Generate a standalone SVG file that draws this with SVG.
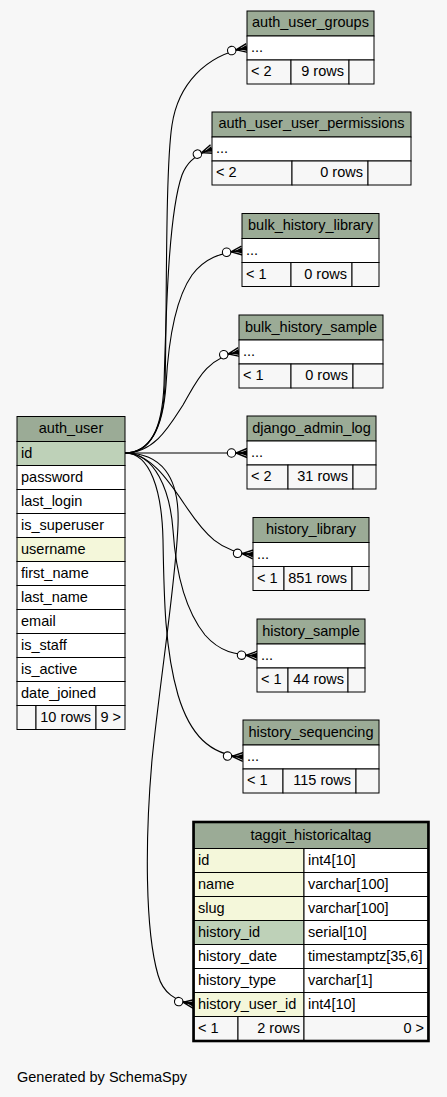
<svg xmlns="http://www.w3.org/2000/svg" width="447" height="1097" viewBox="0 0 447 1097">
<style>
.hd{fill:#9bab96;stroke:#000;stroke-width:1}
.pk{fill:#bed1b8;stroke:#000;stroke-width:1}
.ix{fill:#f4f7da;stroke:#000;stroke-width:1}
.rw{fill:#fff;stroke:#000;stroke-width:1}
.ft{fill:#f7f7f7;stroke:#000;stroke-width:1}
text{font-family:"Liberation Sans",Arial,Helvetica,sans-serif;font-size:14.5px;fill:#000}
.c{text-anchor:middle}
.e{text-anchor:end}
.edge{fill:none;stroke:#000;stroke-width:1.1;marker-end:url(#cf)}
</style>
<defs>
<marker id="cf" markerUnits="userSpaceOnUse" orient="auto" viewBox="-25 -10 30 20" refX="0" refY="0" markerWidth="30" markerHeight="20" overflow="visible">
<path d="M0,-4.5 L-11,0 L0,4.5 M-11,0 H0" fill="none" stroke="#000" stroke-width="1.4"/>
<path d="M0,-3 L-8,0 L0,3 Z" fill="#000"/>
<circle cx="-15.5" cy="0" r="4.2" fill="#fff" stroke="#000" stroke-width="1.1"/>
</marker>
</defs>
<rect x="0" y="0" width="447" height="1097" fill="#f7f7f7"/>

<g id="connectors">
<path class="edge" d="M125,453 C150,453 163,428 165,385 C167,320 165,170 172,125 C178,85 205,55 247,48"/>
<path class="edge" d="M125,453 C150,453 162,430 164,385 C166,320 168,215 182,175 C186,165 192,156 212,149"/>
<path class="edge" d="M125,453 C150,453 163,428 166,385 C169,330 178,295 192,275 C205,258 220,253 242,250.5"/>
<path class="edge" d="M125,453 C155,453 170,425 183,405 C196,383 205,358 239,352"/>
<path class="edge" d="M125,453 H247"/>
<path class="edge" d="M125,453 C150,453 168,480 185,505 C205,535 220,552 253,554.5"/>
<path class="edge" d="M125,453 C155,453 170,490 173,530 C176,575 185,610 205,635 C220,652 235,655 257,655.7"/>
<path class="edge" d="M125,453 C150,453 162,490 163,540 C164,600 165,650 178,695 C190,735 210,755 243,757"/>
<path class="edge" d="M125,453 C160,453 180,475 178,525 C176,580 160,680 152,760 C145,840 145,930 158,975 C163,993 175,1001 194,1004"/>
</g>

<g id="auth_user_groups">
<rect class="hd" x="247" y="11" width="127" height="25"/>
<rect class="rw" x="247" y="36" width="127" height="24"/>
<rect class="ft" x="247" y="60" width="44" height="24"/>
<rect class="ft" x="291" y="60" width="58" height="24"/>
<rect class="ft" x="349" y="60" width="25" height="24"/>
<text class="c" x="310.5" y="27">auth_user_groups</text>
<text x="251" y="52">...</text>
<text x="251" y="76">&lt; 2</text>
<text class="e" x="344" y="76">9 rows</text>
</g>

<g id="auth_user_user_permissions">
<rect class="hd" x="212" y="112" width="199" height="25"/>
<rect class="rw" x="212" y="137" width="199" height="24"/>
<rect class="ft" x="212" y="161" width="80" height="24"/>
<rect class="ft" x="292" y="161" width="76" height="24"/>
<rect class="ft" x="368" y="161" width="43" height="24"/>
<text class="c" x="311.5" y="128">auth_user_user_permissions</text>
<text x="216" y="153">...</text>
<text x="216" y="177">&lt; 2</text>
<text class="e" x="363" y="177">0 rows</text>
</g>

<g id="bulk_history_library">
<rect class="hd" x="242" y="213.5" width="137" height="25"/>
<rect class="rw" x="242" y="238.5" width="137" height="24"/>
<rect class="ft" x="242" y="262.5" width="49" height="24"/>
<rect class="ft" x="291" y="262.5" width="61" height="24"/>
<rect class="ft" x="352" y="262.5" width="27" height="24"/>
<text class="c" x="310.5" y="230">bulk_history_library</text>
<text x="246" y="254.5">...</text>
<text x="246" y="278.5">&lt; 1</text>
<text class="e" x="347" y="278.5">0 rows</text>
</g>

<g id="bulk_history_sample">
<rect class="hd" x="239" y="315" width="144" height="25"/>
<rect class="rw" x="239" y="340" width="144" height="24"/>
<rect class="ft" x="239" y="364" width="52" height="24"/>
<rect class="ft" x="291" y="364" width="62" height="24"/>
<rect class="ft" x="353" y="364" width="30" height="24"/>
<text class="c" x="311" y="331.5">bulk_history_sample</text>
<text x="243" y="356">...</text>
<text x="243" y="380">&lt; 1</text>
<text class="e" x="348" y="380">0 rows</text>
</g>

<g id="django_admin_log">
<rect class="hd" x="247" y="416" width="129" height="25"/>
<rect class="rw" x="247" y="441" width="129" height="24"/>
<rect class="ft" x="247" y="465" width="41" height="24"/>
<rect class="ft" x="288" y="465" width="65" height="24"/>
<rect class="ft" x="353" y="465" width="23" height="24"/>
<text class="c" x="311.5" y="432.5">django_admin_log</text>
<text x="251" y="457">...</text>
<text x="251" y="481">&lt; 2</text>
<text class="e" x="348" y="481">31 rows</text>
</g>

<g id="history_library">
<rect class="hd" x="253" y="517.5" width="116" height="25"/>
<rect class="rw" x="253" y="542.5" width="116" height="24"/>
<rect class="ft" x="253" y="566.5" width="31" height="24"/>
<rect class="ft" x="284" y="566.5" width="68" height="24"/>
<rect class="ft" x="352" y="566.5" width="17" height="24"/>
<text class="c" x="311" y="534">history_library</text>
<text x="257" y="558.5">...</text>
<text x="257" y="582.5">&lt; 1</text>
<text class="e" x="347" y="582.5">851 rows</text>
</g>

<g id="history_sample">
<rect class="hd" x="257" y="619" width="108" height="25"/>
<rect class="rw" x="257" y="644" width="108" height="24"/>
<rect class="ft" x="257" y="668" width="31" height="24"/>
<rect class="ft" x="288" y="668" width="60" height="24"/>
<rect class="ft" x="348" y="668" width="17" height="24"/>
<text class="c" x="311" y="635.5">history_sample</text>
<text x="261" y="660">...</text>
<text x="261" y="684">&lt; 1</text>
<text class="e" x="344" y="684">44 rows</text>
</g>

<g id="history_sequencing">
<rect class="hd" x="243" y="720" width="136" height="25"/>
<rect class="rw" x="243" y="745" width="136" height="24"/>
<rect class="ft" x="243" y="769" width="40" height="24"/>
<rect class="ft" x="283" y="769" width="73" height="24"/>
<rect class="ft" x="356" y="769" width="23" height="24"/>
<text class="c" x="311" y="736.5">history_sequencing</text>
<text x="247" y="761">...</text>
<text x="247" y="785">&lt; 1</text>
<text class="e" x="351" y="785">115 rows</text>
</g>

<g id="auth_user">
<rect class="hd" x="17" y="416.5" width="108" height="25"/>
<rect class="pk" x="17" y="441.5" width="108" height="24"/>
<rect class="rw" x="17" y="465.5" width="108" height="24"/>
<rect class="rw" x="17" y="489.5" width="108" height="24"/>
<rect class="rw" x="17" y="513.5" width="108" height="24"/>
<rect class="ix" x="17" y="537.5" width="108" height="24"/>
<rect class="rw" x="17" y="561.5" width="108" height="24"/>
<rect class="rw" x="17" y="585.5" width="108" height="24"/>
<rect class="rw" x="17" y="609.5" width="108" height="24"/>
<rect class="rw" x="17" y="633.5" width="108" height="24"/>
<rect class="rw" x="17" y="657.5" width="108" height="24"/>
<rect class="rw" x="17" y="681.5" width="108" height="24"/>
<rect class="ft" x="17" y="705.5" width="19" height="24"/>
<rect class="ft" x="36" y="705.5" width="60" height="24"/>
<rect class="ft" x="96" y="705.5" width="29" height="24"/>
<text class="c" x="71" y="433">auth_user</text>
<text x="21" y="458">id</text>
<text x="21" y="482">password</text>
<text x="21" y="506">last_login</text>
<text x="21" y="530">is_superuser</text>
<text x="21" y="554">username</text>
<text x="21" y="578">first_name</text>
<text x="21" y="602">last_name</text>
<text x="21" y="626">email</text>
<text x="21" y="650">is_staff</text>
<text x="21" y="674">is_active</text>
<text x="21" y="698">date_joined</text>
<text class="e" x="91" y="722">10 rows</text>
<text class="e" x="121" y="722">9 &gt;</text>
</g>

<g id="taggit_historicaltag">
<rect class="hd" x="194" y="822.5" width="234" height="26"/>
<rect class="ix" x="194" y="848.5" width="110" height="24"/>
<rect class="rw" x="304" y="848.5" width="124" height="24"/>
<rect class="ix" x="194" y="872.5" width="110" height="24"/>
<rect class="rw" x="304" y="872.5" width="124" height="24"/>
<rect class="ix" x="194" y="896.5" width="110" height="24"/>
<rect class="rw" x="304" y="896.5" width="124" height="24"/>
<rect class="pk" x="194" y="920.5" width="110" height="24"/>
<rect class="rw" x="304" y="920.5" width="124" height="24"/>
<rect class="rw" x="194" y="944.5" width="110" height="24"/>
<rect class="rw" x="304" y="944.5" width="124" height="24"/>
<rect class="rw" x="194" y="968.5" width="110" height="24"/>
<rect class="rw" x="304" y="968.5" width="124" height="24"/>
<rect class="ix" x="194" y="992.5" width="110" height="24"/>
<rect class="rw" x="304" y="992.5" width="124" height="24"/>
<rect class="ft" x="194" y="1016.5" width="44" height="24"/>
<rect class="ft" x="238" y="1016.5" width="66" height="24"/>
<rect class="ft" x="304" y="1016.5" width="124" height="24"/>
<rect x="193.5" y="822" width="235" height="219" fill="none" stroke="#000" stroke-width="2.6"/>
<text class="c" x="311" y="839.5">taggit_historicaltag</text>
<text x="198" y="865">id</text>
<text x="308" y="865">int4[10]</text>
<text x="198" y="889">name</text>
<text x="308" y="889">varchar[100]</text>
<text x="198" y="913">slug</text>
<text x="308" y="913">varchar[100]</text>
<text x="198" y="937">history_id</text>
<text x="308" y="937">serial[10]</text>
<text x="198" y="961">history_date</text>
<text x="308" y="961">timestamptz[35,6]</text>
<text x="198" y="985">history_type</text>
<text x="308" y="985">varchar[1]</text>
<text x="198" y="1009">history_user_id</text>
<text x="308" y="1009">int4[10]</text>
<text x="198" y="1033">&lt; 1</text>
<text class="e" x="300" y="1033">2 rows</text>
<text class="e" x="424" y="1033">0 &gt;</text>
</g>

<text x="17" y="1082">Generated by SchemaSpy</text>
</svg>
